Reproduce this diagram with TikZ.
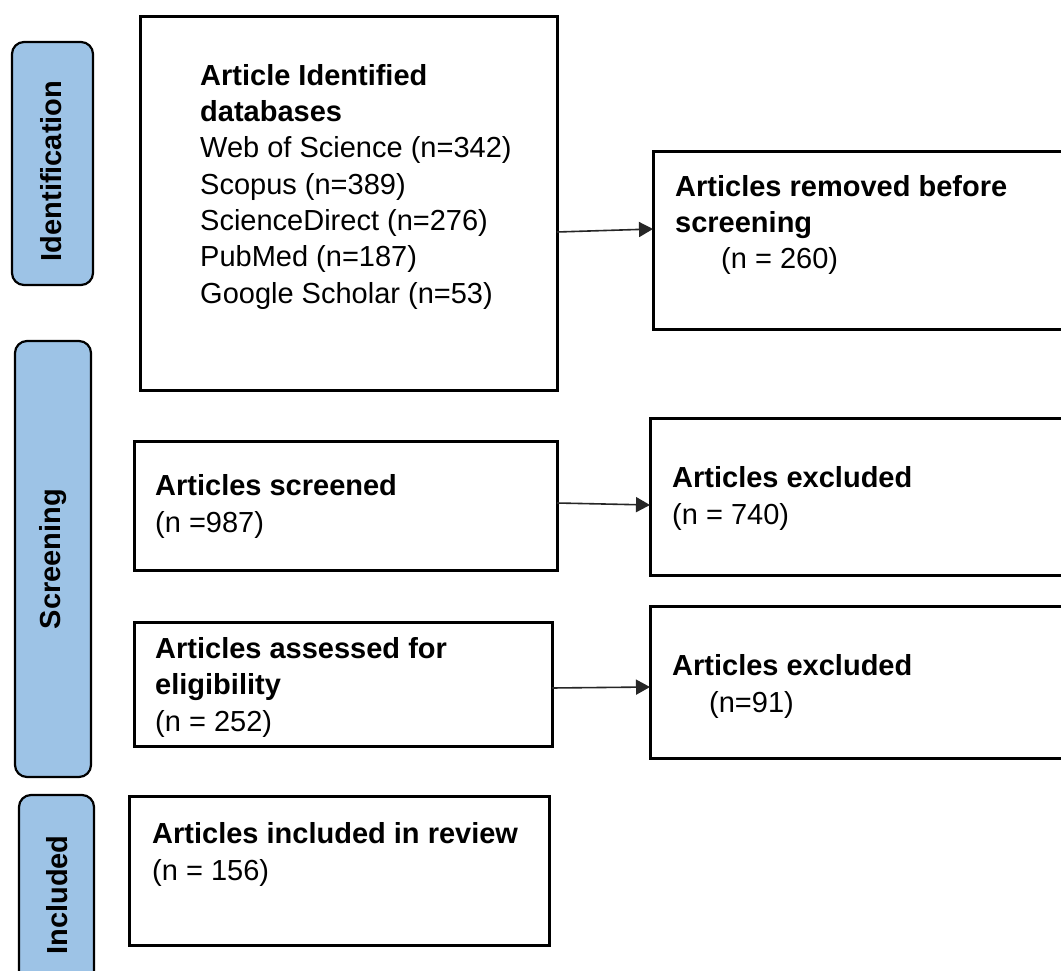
\documentclass[tikz,border=0pt]{standalone}
\usepackage{fontspec}
\setmainfont{Liberation Sans}
\usetikzlibrary{arrows.meta}
\definecolor{barblue}{HTML}{9DC3E6}
\begin{document}
\begin{tikzpicture}[x=1pt,y=-1pt,
  box/.style={draw=black, line width=3pt, anchor=north west, inner sep=0pt, outer sep=0pt},
  bar/.style={draw=black, fill=barblue, line width=2.2pt, rounded corners=12pt, inner sep=0pt, outer sep=0pt, rotate=90},
  txt/.style={anchor=base west, align=left, inner sep=0pt, font=\fontsize{29}{36.3}\selectfont},
  side/.style={rotate=90, inner sep=0pt, font=\fontsize{29}{35}\selectfont\bfseries},
  arr/.style={line width=1.6pt, draw=black!85, -{Triangle[length=14pt,width=15pt]}}
]
\useasboundingbox (0,0) rectangle (1061,971);
\clip (0,0) rectangle (1061,971);
\fill[white] (0,0) rectangle (1061,971);

% side bars
\node[bar, minimum width=243pt, minimum height=81pt] (barI) at (52.5,163.5) {};
\node[side] (labI) at (51,171) {Identification};
\node[bar, minimum width=436pt, minimum height=76pt] (barS) at (53,559) {};
\node[side] (labS) at (53,559) {Screening};
\node[bar, minimum width=195pt, minimum height=75pt] (barN) at (56.5,892.5) {};
\node[side] (labN) at (57,895) {Included};

% boxes
\node[box, minimum width=417pt, minimum height=373pt] (ident) at (140,17) {};
\node[box, minimum width=450pt, minimum height=177pt] (removed) at (653,152) {};
\node[box, minimum width=423pt, minimum height=129pt] (screened) at (134,441) {};
\node[box, minimum width=450pt, minimum height=157pt] (excl1) at (650,418) {};
\node[box, minimum width=418pt, minimum height=124pt] (assessed) at (134,622) {};
\node[box, minimum width=450pt, minimum height=152pt] (excl2) at (650,606) {};
\node[box, minimum width=420pt, minimum height=149pt] (included) at (129,796) {};

% texts (anchor = baseline of last line)
\node[txt] (identtxt) at (200,303) {\textbf{Article Identified}\\\textbf{databases}\\Web of Science (n=342)\\Scopus (n=389)\\ScienceDirect (n=276)\\PubMed (n=187)\\Google Scholar (n=53)};
\node[txt] (removedtxt) at (675,269) {\textbf{Articles removed before}\\\textbf{screening}\\\hspace*{46pt}(n = 260)};
\node[txt] (screenedtxt) at (155,532) {\textbf{Articles screened}\\(n =987)};
\node[txt] (excl1txt) at (672,524) {\textbf{Articles excluded}\\(n = 740)};
\node[txt] (assessedtxt) at (155,731) {\textbf{Articles assessed for}\\\textbf{eligibility}\\(n = 252)};
\node[txt] (excl2txt) at (672,712) {\textbf{Articles excluded}\\\hspace*{37pt}(n=91)};
\node[txt] (includedtxt) at (152,880) {\textbf{Articles included in review}\\(n = 156)};

% arrows
\draw[arr] ([yshift=-28.5pt]ident.east) -- ([yshift=11.5pt]removed.west);
\draw[arr] ([yshift=2.5pt]screened.east) -- ([yshift=-8.5pt]excl1.west);
\draw[arr] ([yshift=-4pt]assessed.east) -- ([yshift=-5pt]excl2.west);
\end{tikzpicture}
\end{document}
